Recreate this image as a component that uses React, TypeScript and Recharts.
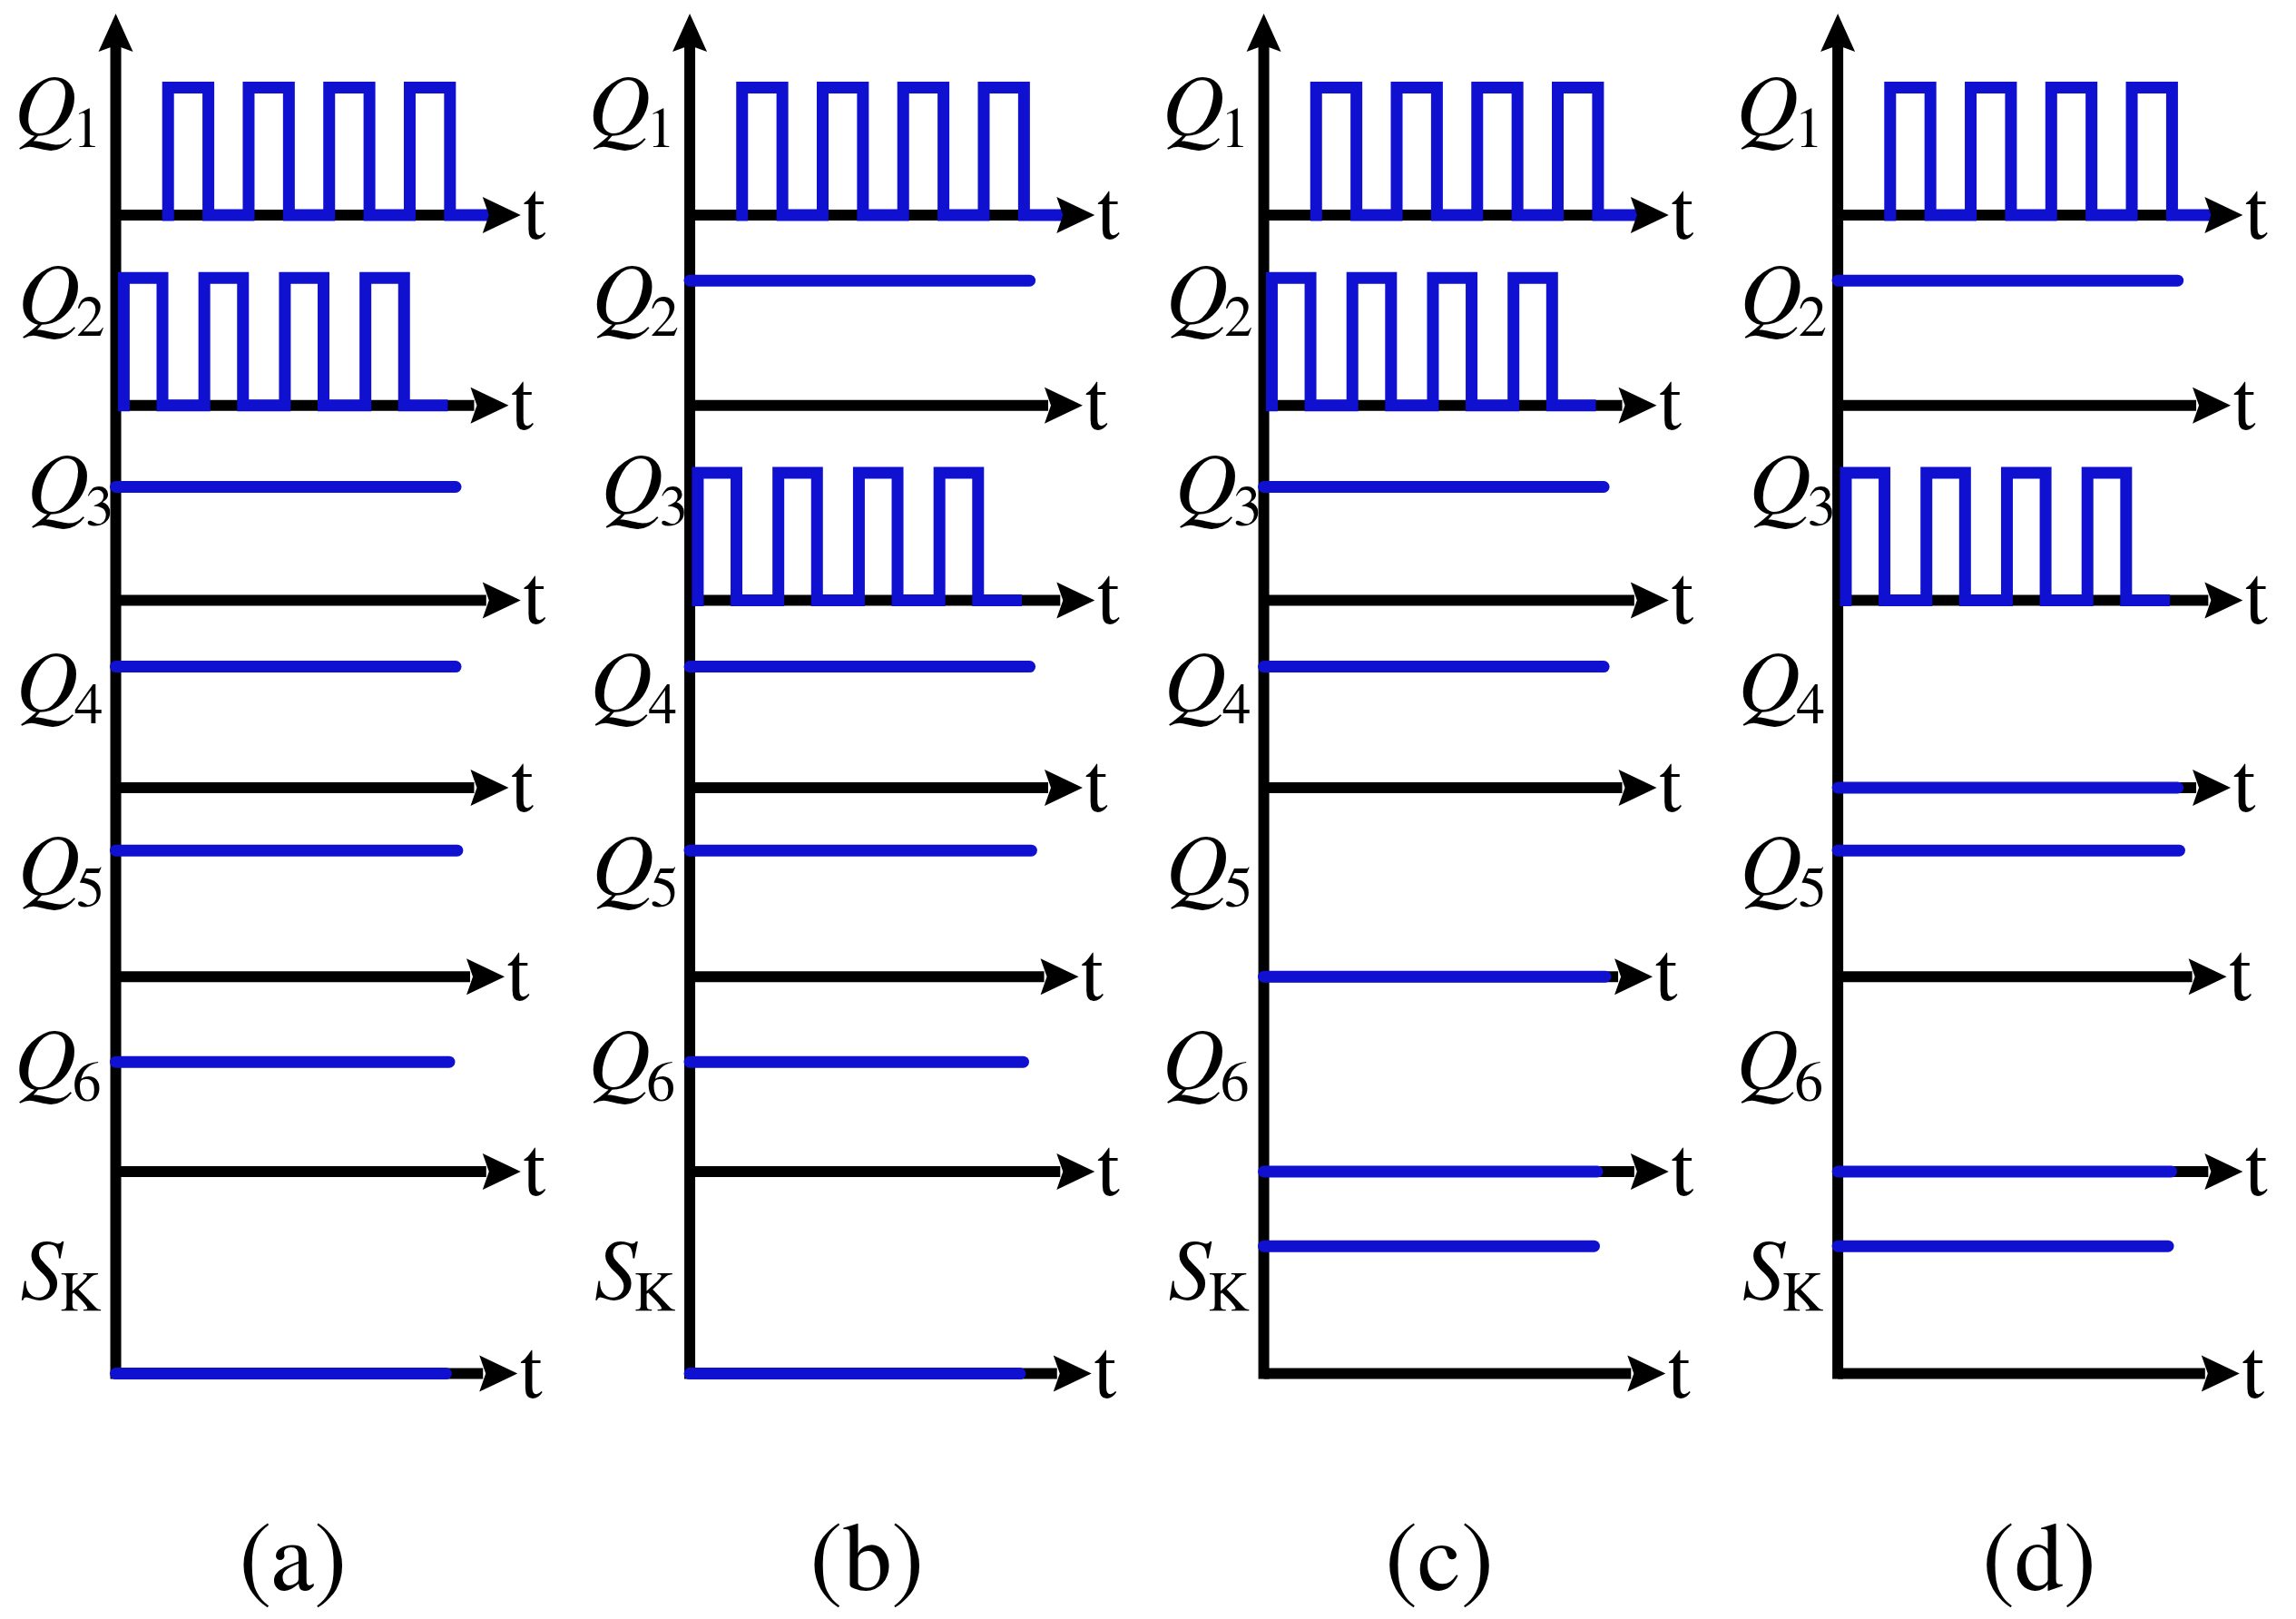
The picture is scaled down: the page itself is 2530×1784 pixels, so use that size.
import { ComposedChart, Line, Scatter, XAxis, YAxis } from "recharts"

// signal names, one row per signal
const signalMain = ["Q", "Q", "Q", "Q", "Q", "Q", "S"]
const signalSub = ["1", "2", "3", "4", "5", "6", "K"]
const panelNames = ["(a)", "(b)", "(c)", "(d)"]

// state of every signal in each operating mode
const modeA = ["pwmA", "pwmB", "on", "on", "on", "on", "off"]
const modeB = ["pwmA", "on", "pwmB", "on", "on", "on", "off"]
const modeC = ["pwmA", "pwmB", "on", "on", "off", "off", "on"]
const modeD = ["pwmA", "on", "pwmB", "off", "on", "off", "on"]
const modes = [modeA, modeB, modeC, modeD]

// switching edges (time in switching periods)
const pwmARise = [0.65, 1.65, 2.65, 3.65]
const pwmAFall = [1.15, 2.15, 3.15, 4.15]
const pwmAStop = 4.6
const pwmBRise = [0.1, 1.1, 2.1, 3.1]
const pwmBFall = [0.58, 1.58, 2.58, 3.58]
const pwmBStop = 4.05

// steady signals: level and where the trace stops
const steadyLevel = [1, 0.98, 0.89, 0.95, 0.99, 0.86, 1.0]
const steadyStop = [4.2, 4.22, 4.22, 4.22, 4.24, 4.14, 4.1]

// time axis length (up to the arrow head)
const axisStop = [4.6, 4.45, 4.6, 4.45, 4.4, 4.6, 4.56]

// layout
const W = 2530
const H = 1784
const BLUE = "#1010d0"
const FONT = "FreeSerif, Liberation Serif, Times New Roman, serif"
const PANEL_X = [0, 7.127, 14.254, 21.381]
const ROW_Y = [0, -1.494, -3.023, -4.494, -5.977, -7.506, -9.092]
const AXIS_TOP = 1.31
const LABEL_LIFT = [0.63, 0.64, 0.68, 0.6, 0.64, 0.65, 0.59]
const LABEL_NUDGE = [0, 4, 14, 2, 4, 0, 0]
const CAPTION_DX = [2.2, 2.2, 2.18, 2.5]
const CAPTION_Y = -10.79

type Pt = { x: number; y: number }

function pulses(rise: number[], fall: number[], stop: number, x0: number, y0: number) {
  const pts: Pt[] = []
  rise.forEach((r, i) => {
    pts.push({ x: x0 + r, y: y0 }, { x: x0 + r, y: y0 + 1 })
    pts.push({ x: x0 + fall[i], y: y0 + 1 }, { x: x0 + fall[i], y: y0 })
  })
  pts.push({ x: x0 + stop, y: y0 })
  return pts
}

const arrowRight = (props: any) => {
  const { cx, cy, index } = props
  if (index !== 1) return <g key={`n-${cx}-${cy}`} />
  return (
    <g key={`a-${cx}-${cy}`}>
      <polygon
        points={`${cx - 4},${cy - 20} ${cx + 38},${cy} ${cx - 4},${cy + 20} ${cx + 3},${cy}`}
        fill="#000"
      />
      <text x={cx + 40} y={cy + 26} fontFamily={FONT} fontSize={90} fill="#000">
        t
      </text>
    </g>
  )
}

const arrowUp = (props: any) => {
  const { cx, cy, index } = props
  if (index !== 1) return <g key={`n-${cx}-${cy}`} />
  return (
    <polygon
      key={`u-${cx}-${cy}`}
      points={`${cx - 19},${cy + 4} ${cx},${cy - 38} ${cx + 19},${cy + 4} ${cx},${cy - 3}`}
      fill="#000"
    />
  )
}

const signalLabel = (props: any) => {
  const { cx, cy, payload } = props
  return (
    <text x={cx - 16 + payload.nudge} y={cy} textAnchor="end" fontFamily={FONT} fill="#000">
      <tspan fontStyle="italic" fontSize={95}>{payload.main}</tspan>
      <tspan fontSize={63} dy={13}>{payload.sub}</tspan>
    </text>
  )
}

const captionLabel = (props: any) => {
  const { cx, cy, payload } = props
  return (
    <text x={cx} y={cy} textAnchor="middle" fontFamily={FONT} fontSize={108} fill="#000">
      {payload.name}
    </text>
  )
}

export default function App() {
  const axes: { key: string; data: Pt[] }[] = []
  const verticals: { key: string; data: Pt[] }[] = []
  const traces: { key: string; data: Pt[]; cap: "round" | "square" }[] = []
  const labels: any[] = []

  PANEL_X.forEach((x0, p) => {
    verticals.push({
      key: `v${p}`,
      data: [
        { x: x0, y: ROW_Y[ROW_Y.length - 1] },
        { x: x0, y: AXIS_TOP },
      ],
    })
    modes[p].forEach((m, i) => {
      const y0 = ROW_Y[i]
      axes.push({
        key: `ax${p}-${i}`,
        data: [
          { x: x0, y: y0 },
          { x: x0 + axisStop[i], y: y0 },
        ],
      })
      if (m === "pwmA") {
        traces.push({ key: `tr${p}-${i}`, data: pulses(pwmARise, pwmAFall, pwmAStop, x0, y0), cap: "square" })
      } else if (m === "pwmB") {
        traces.push({ key: `tr${p}-${i}`, data: pulses(pwmBRise, pwmBFall, pwmBStop, x0, y0), cap: "square" })
      } else {
        const lvl = m === "on" ? steadyLevel[i] : 0
        traces.push({
          key: `tr${p}-${i}`,
          data: [
            { x: x0, y: y0 + lvl },
            { x: x0 + steadyStop[i], y: y0 + lvl },
          ],
          cap: "round",
        })
      }
      labels.push({
        x: x0,
        y: y0 + LABEL_LIFT[i],
        main: signalMain[i],
        sub: signalSub[i],
        nudge: LABEL_NUDGE[i],
      })
    })
  })

  const captions = panelNames.map((name, p) => ({ x: PANEL_X[p] + CAPTION_DX[p], y: CAPTION_Y, name }))

  return (
    <div style={{ position: "absolute", left: 0, top: 0, width: W, height: H, background: "#fff" }}>
      <ComposedChart width={W} height={H} margin={{ top: 0, right: 0, bottom: 0, left: 0 }}>
        <XAxis type="number" dataKey="x" domain={[-1.437, 27.07]} allowDataOverflow hide />
        <YAxis type="number" dataKey="y" domain={[-11.018, 1.688]} allowDataOverflow hide />

        {verticals.map((v) => (
          <Line
            key={v.key}
            data={v.data}
            dataKey="y"
            type="linear"
            stroke="#000"
            strokeWidth={12}
            strokeLinecap="square"
            dot={arrowUp}
            activeDot={false}
            isAnimationActive={false}
          />
        ))}

        {axes.map((a) => (
          <Line
            key={a.key}
            data={a.data}
            dataKey="y"
            type="linear"
            stroke="#000"
            strokeWidth={12}
            dot={arrowRight}
            activeDot={false}
            isAnimationActive={false}
          />
        ))}

        {traces.map((t) => (
          <Line
            key={t.key}
            data={t.data}
            dataKey="y"
            type="linear"
            stroke={BLUE}
            strokeWidth={13}
            strokeLinecap={t.cap}
            strokeLinejoin="miter"
            dot={false}
            activeDot={false}
            isAnimationActive={false}
          />
        ))}

        <Scatter data={labels} shape={signalLabel} isAnimationActive={false} />
        <Scatter data={captions} shape={captionLabel} isAnimationActive={false} />
      </ComposedChart>
    </div>
  )
}
